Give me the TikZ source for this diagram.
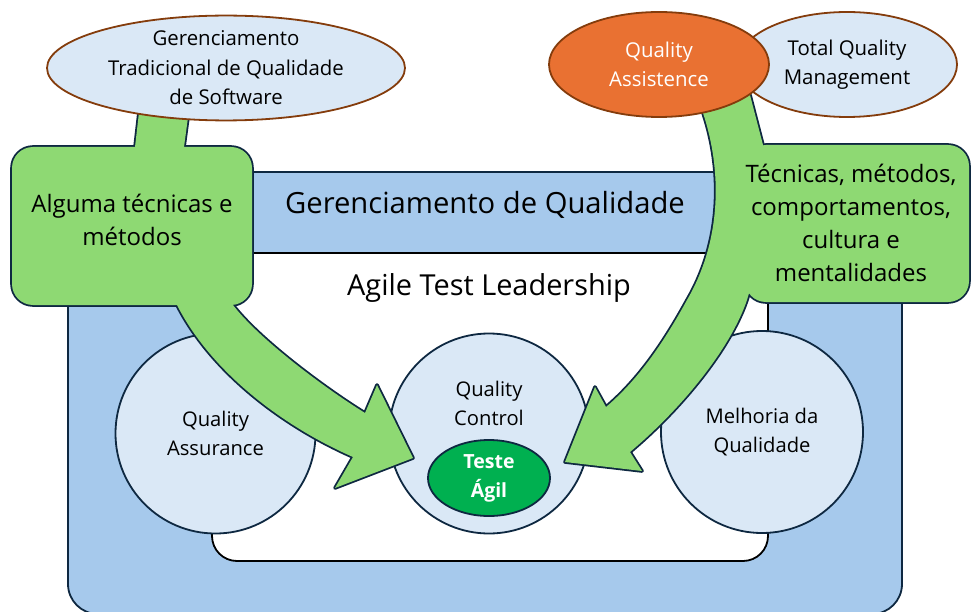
\documentclass[tikz,border=0pt]{standalone}
\usepackage{fontspec}
\setmainfont{Open Sans}
\usetikzlibrary{shapes.geometric}
\definecolor{bandblue}{HTML}{A6C9EC}
\definecolor{lightblue}{HTML}{DAE8F6}
\definecolor{navy}{HTML}{0E2841}
\definecolor{greenfill}{HTML}{8ED973}
\definecolor{orangefill}{HTML}{E97132}
\definecolor{brownline}{HTML}{843C0C}
\definecolor{agilegreen}{HTML}{00B050}
\newcommand{\fs}[2]{\fontsize{#1}{#2}\selectfont}
\begin{document}
\begin{tikzpicture}[x=1pt,y=-1pt,line join=round,
  frame/.style={draw=navy,line width=1.8pt},
  circ/.style={circle,frame,fill=lightblue,minimum size=#1,inner sep=0pt,align=center,font=\fs{20.2}{29}},
  topell/.style={ellipse,draw=brownline,line width=1.8pt,inner sep=0pt,align=center,font=\fs{20.4}{29.5}},
  greenedge/.style={draw=navy,line width=3.6pt},
  boxtext/.style={align=center,font=\fs{24}{33}},
  bigtext/.style={font=\fs{29.2}{33}}]
\useasboundingbox (0,0) rectangle (971,612);
% outer blue frame and inner white area
\node[frame,fill=bandblue,rounded corners=30pt,minimum width=834pt,minimum height=442pt,inner sep=0pt] (outer) at (485,393) {};
\node[draw=black,line width=1.8pt,fill=white,rounded corners=25pt,minimum width=556pt,minimum height=308pt,inner sep=0pt] (inner) at (490,407) {};
\node[bigtext] (gq) at (485,205) {Gerenciamento de Qualidade};
\node[bigtext,font=\fs{28.9}{33}] (atl) at (489,288) {Agile Test Leadership};
% circles
\node[circ=200pt] (qa) at (215.5,433.5) {Quality\\Assurance};
\node[circ=200pt] (qc) at (489,433.5) {};
\node[circ=202pt] (mq) at (762,432) {Melhoria da\\Qualidade};
\node[align=center,font=\fs{20.2}{29}] (qct) at (489,403) {Quality\\Control};
% green groups: outline pass
\draw[greenedge,rounded corners=21pt] (12,147) rectangle (252,305);
\draw[greenedge] (141,95) -- (135,147) -- (165,250) -- (177,305)
   .. controls (210,370) and (280,425) .. (353,457) -- (335,488) -- (413,458) -- (377,385) -- (365,413)
   .. controls (323,387) and (258,338) .. (233,305) -- (200,210) -- (184,147) -- (191,95) -- cycle;
\draw[greenedge,rounded corners=21pt] (745,145) rectangle (969,302);
\draw[greenedge] (700,95) -- (703,113) .. controls (722,170) and (722,240) .. (687,300)
   .. controls (665,340) and (640,378) .. (606,407) -- (595,387) -- (565,462) -- (642,471) -- (630,452)
   .. controls (680,410) and (730,350) .. (747,300) .. controls (765,240) and (770,190) .. (763,145) -- (750,95) -- cycle;
% green groups: fill pass
\fill[greenfill,rounded corners=21pt] (12,147) rectangle (252,305);
\fill[greenfill] (141,95) -- (135,147) -- (165,250) -- (177,305)
   .. controls (210,370) and (280,425) .. (353,457) -- (335,488) -- (413,458) -- (377,385) -- (365,413)
   .. controls (323,387) and (258,338) .. (233,305) -- (200,210) -- (184,147) -- (191,95) -- cycle;
\fill[greenfill,rounded corners=21pt] (745,145) rectangle (969,302);
\fill[greenfill] (700,95) -- (703,113) .. controls (722,170) and (722,240) .. (687,300)
   .. controls (665,340) and (640,378) .. (606,407) -- (595,387) -- (565,462) -- (642,471) -- (630,452)
   .. controls (680,410) and (730,350) .. (747,300) .. controls (765,240) and (770,190) .. (763,145) -- (750,95) -- cycle;
\node[boxtext] (lt) at (132,220) {Alguma técnicas e\\métodos};
\node[boxtext] (rt) at (851,223) {Técnicas, métodos,\\comportamentos,\\cultura e\\mentalidades};
% agile test
\node[ellipse,frame,fill=agilegreen,minimum width=122pt,minimum height=76pt,inner sep=0pt,align=center,text=white,font=\bfseries\fs{19.5}{29}] (ta) at (489,478) {Teste\\Ágil};
% top ellipses
\node[topell,fill=lightblue,minimum width=358pt,minimum height=104pt] (gt) at (226,68) {Gerenciamento\\Tradicional de Qualidade\\de Software};
\node[topell,fill=lightblue,minimum width=220pt,minimum height=105pt] (tqm) at (847,64.5) {Total Quality\\Management};
\node[topell,fill=orangefill,text=white,minimum width=220pt,minimum height=105pt] (qas) at (659,64.5) {Quality\\Assistence};
\end{tikzpicture}
\end{document}
